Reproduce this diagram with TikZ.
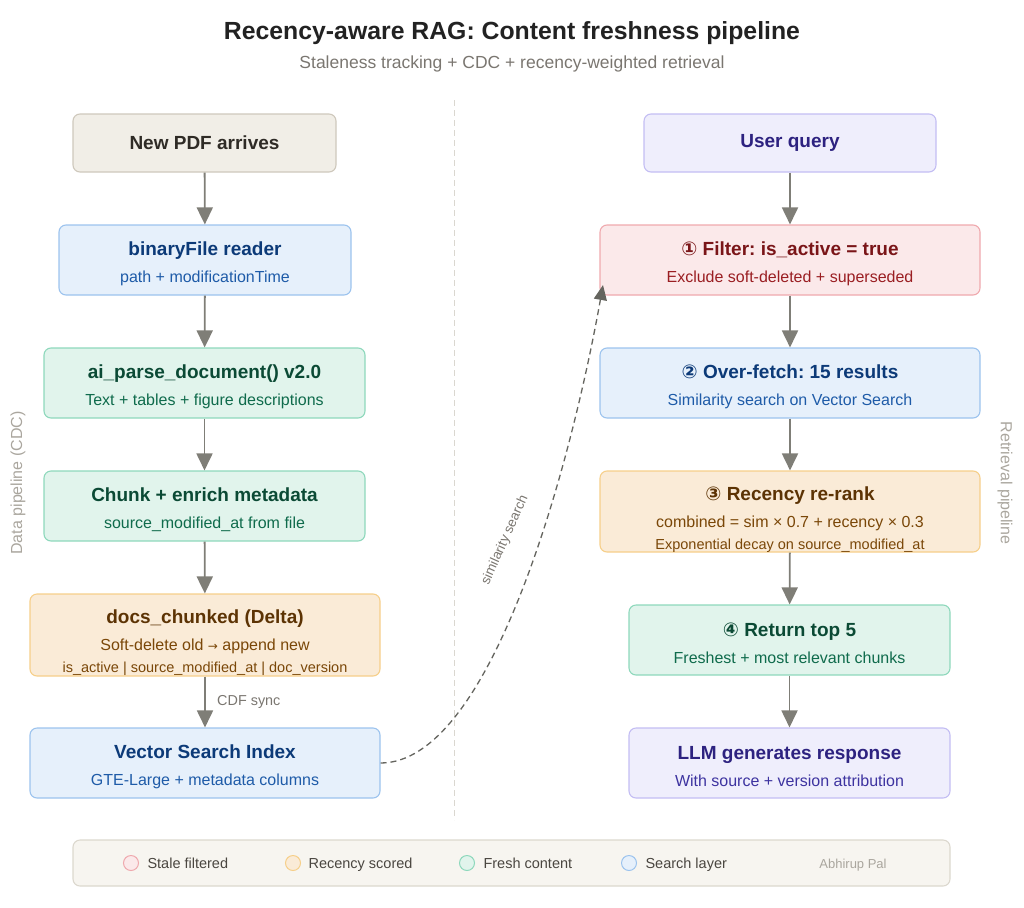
\documentclass[tikz,border=0pt]{standalone}
\usepackage{fontspec}
\setmainfont{Liberation Sans}
\newfontfamily\symfont{DejaVu Sans}
\usepackage{xcolor}
\definecolor{rgtitle}{RGB}{34,34,34}
\definecolor{rgsubtitle}{RGB}{122,118,112}
\definecolor{rgside}{RGB}{170,166,158}
\definecolor{rgarrow}{RGB}{127,126,119}
\definecolor{rgdivider}{RGB}{218,215,208}
\definecolor{beigefill}{RGB}{241,238,231}
\definecolor{beigeline}{RGB}{206,200,188}
\definecolor{beigetext}{RGB}{47,43,38}
\definecolor{bluefill}{RGB}{230,240,251}
\definecolor{blueline}{RGB}{156,195,238}
\definecolor{bluetitle}{RGB}{12,58,120}
\definecolor{bluesub}{RGB}{30,91,168}
\definecolor{greenfill}{RGB}{225,244,236}
\definecolor{greenline}{RGB}{142,216,188}
\definecolor{greentitle}{RGB}{11,74,53}
\definecolor{greensub}{RGB}{15,107,76}
\definecolor{orangefill}{RGB}{250,235,215}
\definecolor{orangeline}{RGB}{246,207,138}
\definecolor{orangetitle}{RGB}{92,51,4}
\definecolor{orangesub}{RGB}{122,71,8}
\definecolor{redfill}{RGB}{251,233,234}
\definecolor{redline}{RGB}{239,169,174}
\definecolor{redtitle}{RGB}{122,21,24}
\definecolor{redsub}{RGB}{154,30,34}
\definecolor{purplefill}{RGB}{239,238,252}
\definecolor{purpleline}{RGB}{195,189,243}
\definecolor{purpletitle}{RGB}{45,34,128}
\definecolor{purplesub}{RGB}{61,51,160}
\definecolor{legendfill}{RGB}{247,245,240}
\definecolor{legendline}{RGB}{220,216,206}
\definecolor{legendtext}{RGB}{74,70,64}
\usetikzlibrary{arrows.meta,positioning,calc}

\frenchspacing
\newcommand\hd[1]{{\fontsize{19}{19}\selectfont\bfseries #1}}
\newcommand\sm[1]{{\fontsize{14.5}{19}\selectfont #1}}
% struts push the text block down inside its box
\newcommand\twoline{\rule{0pt}{20.5pt}}
\newcommand\threeline{\rule{0pt}{29.5pt}}

\begin{document}
\begin{tikzpicture}[
  x=1pt,y=-1pt,
  every node/.style={font=\fontsize{16}{19}\selectfont},
  box/.style={draw,rounded corners=7pt,line width=1.1pt,align=center,inner sep=0pt},
  arr/.style={-{Triangle[length=17pt,width=16pt]},line width=1.8pt,rgarrow},
  side/.style={font=\fontsize{16}{18}\selectfont,text=rgside},
  dot/.style={circle,minimum size=15pt,inner sep=0pt,line width=1pt},
  legtext/.style={anchor=base west,font=\fontsize{14.5}{17}\selectfont,text=legendtext},
]
  \useasboundingbox (0,0) rectangle (1024,907);

  % Title
  \node[font=\fontsize{24.8}{28}\selectfont\bfseries,text=rgtitle] (title) at (512,33)
    {Recency-aware RAG: Content freshness pipeline};
  \node[font=\fontsize{17.5}{20}\selectfont,text=rgsubtitle] (subtitle) at (512,64)
    {Staleness tracking + CDC + recency-weighted retrieval};

  % Divider
  \draw[rgdivider,line width=1pt,dash pattern=on 6pt off 4pt] (454,100) -- (454,820);

  % Data pipeline (left)
  \node[box,fill=beigefill,draw=beigeline,minimum width=263,minimum height=58] (pdf) at (204.5,143)
    {\textcolor{beigetext}{\hd{New PDF arrives}}};
  \node[box,fill=bluefill,draw=blueline,minimum width=292,minimum height=70] (reader) at (205,260)
    {\twoline\textcolor{bluetitle}{\hd{binaryFile reader}}\\[8pt]\textcolor{bluesub}{path + modificationTime}};
  \node[box,fill=greenfill,draw=greenline,minimum width=321,minimum height=70] (parse) at (204.5,383)
    {\twoline\textcolor{greentitle}{\hd{ai\_parse\_document() v2.0}}\\[8pt]\textcolor{greensub}{Text + tables + figure descriptions}};
  \node[box,fill=greenfill,draw=greenline,minimum width=321,minimum height=70] (chunk) at (204.5,506)
    {\twoline\textcolor{greentitle}{\hd{Chunk + enrich metadata}}\\[8pt]\textcolor{greensub}{source\_modified\_at from file}};
  \node[box,fill=orangefill,draw=orangeline,minimum width=350,minimum height=82] (delta) at (205,635)
    {\threeline\textcolor{orangetitle}{\hd{docs\_chunked (Delta)}}\\[8pt]\textcolor{orangesub}{Soft-delete old {\symfont\fontsize{12}{13}\selectfont →} append new}\\[2.5pt]
     \textcolor{orangesub}{\sm{is\_active | source\_modified\_at | doc\_version}}};
  \node[box,fill=bluefill,draw=blueline,minimum width=350,minimum height=70] (vsi) at (205,763)
    {\twoline\textcolor{bluetitle}{\hd{Vector Search Index}}\\[8pt]\textcolor{bluesub}{GTE-Large + metadata columns}};

  % Retrieval pipeline (right)
  \node[box,fill=purplefill,draw=purpleline,minimum width=292,minimum height=58] (query) at (790,143)
    {\textcolor{purpletitle}{\hd{User query}}};
  \node[box,fill=redfill,draw=redline,minimum width=380,minimum height=70] (filter) at (790,260)
    {\twoline\textcolor{redtitle}{\hd{{\symfont ①} Filter: is\_active = true}}\\[8pt]\textcolor{redsub}{Exclude soft-deleted + superseded}};
  \node[box,fill=bluefill,draw=blueline,minimum width=380,minimum height=70] (fetch) at (790,383)
    {\twoline\textcolor{bluetitle}{\hd{{\symfont ②} Over-fetch: 15 results}}\\[8pt]\textcolor{bluesub}{Similarity search on Vector Search}};
  \node[box,fill=orangefill,draw=orangeline,minimum width=380,minimum height=81] (rerank) at (790,511.5)
    {\threeline\textcolor{orangetitle}{\hd{{\symfont ③} Recency re-rank}}\\[8pt]\textcolor{orangesub}{combined = sim × 0.7 + recency × 0.3}\\[2.5pt]
     \textcolor{orangesub}{\sm{Exponential decay on source\_modified\_at}}};
  \node[box,fill=greenfill,draw=greenline,minimum width=321,minimum height=70] (top) at (789.5,640)
    {\twoline\textcolor{greentitle}{\hd{{\symfont ④} Return top 5}}\\[8pt]\textcolor{greensub}{Freshest + most relevant chunks}};
  \node[box,fill=purplefill,draw=purpleline,minimum width=321,minimum height=70] (llm) at (789.5,763)
    {\twoline\textcolor{purpletitle}{\hd{LLM generates response}}\\[8pt]\textcolor{purplesub}{With source + version attribution}};

  % Side labels
  \node[side,rotate=90] (leftlbl) at (18,483) {Data pipeline (CDC)};
  \node[side,rotate=-90] (rightlbl) at (1005,483) {Retrieval pipeline};

  % Arrows
  \draw[arr] (pdf) -- (reader);
  \draw[arr] (reader) -- (parse);
  \draw[arr] (parse) -- (chunk);
  \draw[arr] (chunk) -- (delta);
  \draw[arr] (delta) -- (vsi)
    node[midway,right=8pt,font=\fontsize{14.4}{16}\selectfont,text=rgsubtitle] (cdf) {CDF sync};
  \draw[arr] (query) -- (filter);
  \draw[arr] (filter) -- (fetch);
  \draw[arr] (fetch) -- (rerank);
  \draw[arr] (rerank) -- (top);
  \draw[arr] (top) -- (llm);

  % Similarity search
  \coordinate (simin) at (603,285);
  \draw[-{Triangle[length=15pt,width=13pt]},rgarrow!80!black,line width=1.3pt,dash pattern=on 6pt off 4pt]
    (vsi.east) .. controls (490,763) and (570,470) .. (simin);
  \node[font=\fontsize{13.5}{16}\selectfont,text=rgsubtitle,rotate=66] (simlbl) at (505,540) {similarity search};

  % Legend
  \node[box,fill=legendfill,draw=legendline,minimum width=877,minimum height=46] (legend) at (511.5,863) {};
  \node[dot,fill=redfill,draw=redline] (d1) at (131,863) {};
  \node[legtext] (l1) at (144,868) {Stale filtered};
  \node[dot,fill=orangefill,draw=orangeline] (d2) at (293,863) {};
  \node[legtext] (l2) at (305,868) {Recency scored};
  \node[dot,fill=greenfill,draw=greenline] (d3) at (467,863) {};
  \node[legtext] (l3) at (480,868) {Fresh content};
  \node[dot,fill=bluefill,draw=blueline] (d4) at (629,863) {};
  \node[legtext] (l4) at (642,868) {Search layer};
  \node[anchor=base,font=\fontsize{13}{15}\selectfont,text=rgside] (author) at (853,868) {Abhirup Pal};
\end{tikzpicture}
\end{document}
